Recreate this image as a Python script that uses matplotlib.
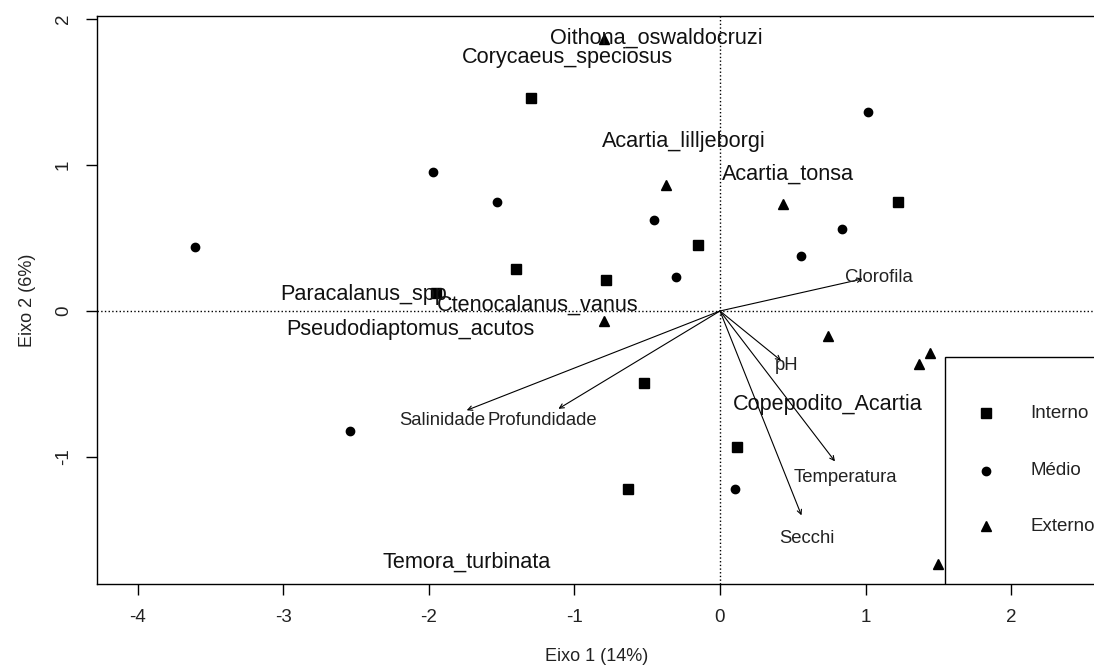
import matplotlib
matplotlib.use('Agg')
import matplotlib.pyplot as plt
from matplotlib.patches import Rectangle

plt.rcParams['font.family'] = ['Liberation Sans', 'DejaVu Sans']
plt.rcParams['axes.unicode_minus'] = False

# Site scores by zone (Eixo 1, Eixo 2)
interno_x = [-1.30, -0.15, -1.40, -0.78, -1.95, 1.22, 0.12, -0.52, -0.63]
interno_y = [1.46, 0.45, 0.29, 0.21, 0.12, 0.75, -0.93, -0.49, -1.22]
medio_x = [-3.61, -1.97, -1.53, -0.45, -0.30, 1.02, 0.84, 0.56, 0.10, -2.54]
medio_y = [0.44, 0.95, 0.75, 0.62, 0.23, 1.36, 0.56, 0.38, -1.22, -0.82]
externo_x = [-0.80, -0.37, -0.80, 0.43, 0.74, 1.44, 1.37, 1.50]
externo_y = [1.86, 0.86, -0.07, 0.73, -0.17, -0.29, -0.36, -1.73]

# Species scores
species = ['Oithona_oswaldocruzi', 'Corycaeus_speciosus', 'Acartia_lilljeborgi',
           'Acartia_tonsa', 'Paracalanus_spp.', 'Ctenocalanus_vanus',
           'Pseudodiaptomus_acutos', 'Copepodito_Acartia', 'Temora_turbinata']
species_x = [-0.44, -1.05, -0.25, 0.47, -2.43, -1.25, -2.13, 0.74, -1.74]
species_y = [1.87, 1.74, 1.16, 0.94, 0.11, 0.04, -0.13, -0.64, -1.72]

# Environmental vectors: arrow tips and label positions
env_vars = ['Clorofila', 'pH', 'Temperatura', 'Secchi', 'Salinidade', 'Profundidade']
env_x = [0.98, 0.42, 0.79, 0.56, -1.74, -1.11]
env_y = [0.22, -0.34, -1.03, -1.40, -0.68, -0.67]
env_lab_x = [1.09, 0.46, 0.86, 0.60, -1.91, -1.22]
env_lab_y = [0.23, -0.37, -1.14, -1.56, -0.75, -0.75]

zones = ['Interno', 'Médio', 'Externo']
zone_markers = ['s', 'o', '^']
zone_sizes = [6.5, 6.0, 7.0]

fig = plt.figure(figsize=(10.94, 6.72), dpi=100)
ax = fig.add_axes([0.0887, 0.131, 0.9132, 0.845])
ax.set_xlim(-4.28, 2.584)
ax.set_ylim(-1.87, 2.02)

ax.axhline(0, color='black', ls=':', lw=1)
ax.axvline(0, color='black', ls=':', lw=1)

for xs, ys, m, s in zip([interno_x, medio_x, externo_x],
                        [interno_y, medio_y, externo_y], zone_markers, zone_sizes):
    ax.plot(xs, ys, ls='none', marker=m, ms=s, color='black')

for name, x, y in zip(species, species_x, species_y):
    ax.text(x, y, name, ha='center', va='center', fontsize=15.6, color='#111111')

for x, y in zip(env_x, env_y):
    ax.annotate('', xy=(x, y), xytext=(0, 0),
                arrowprops=dict(arrowstyle='->', lw=0.8, color='black',
                                mutation_scale=8, shrinkA=0, shrinkB=0))
for name, x, y in zip(env_vars, env_lab_x, env_lab_y):
    ax.text(x, y, name, ha='center', va='center', fontsize=13.3, color='#222222')

# Legend box drawn in axes coordinates
ax.add_patch(Rectangle((0.8488, 0.0), 0.2, 0.3996, transform=ax.transAxes,
                       facecolor='white', edgecolor='black', lw=1, zorder=5))
legend_y = [0.301, 0.199, 0.102]
for lab, m, s, yy in zip(zones, zone_markers, zone_sizes, legend_y):
    ax.plot([0.8899], [yy], marker=m, ms=s, color='black', transform=ax.transAxes,
            zorder=6, clip_on=False)
    ax.text(0.934, yy, lab, transform=ax.transAxes, ha='left', va='center',
            fontsize=13.5, color='#222222', zorder=6)

ax.set_xticks([-4, -3, -2, -1, 0, 1, 2])
ax.set_yticks([-1, 0, 1, 2])
ax.tick_params(direction='out', length=8, width=1, labelsize=13.5, pad=10,
               colors='black', labelcolor='#222222')
for t in ax.get_yticklabels():
    t.set_rotation(90)
    t.set_va('center')
for sp in ax.spines.values():
    sp.set_linewidth(1)

ax.set_xlabel('Eixo 1 (14%)', fontsize=13, color='#222222', labelpad=16)
ax.set_ylabel('Eixo 2 (6%)', fontsize=13, color='#222222', labelpad=14)

fig.savefig('out.png', dpi=100)
